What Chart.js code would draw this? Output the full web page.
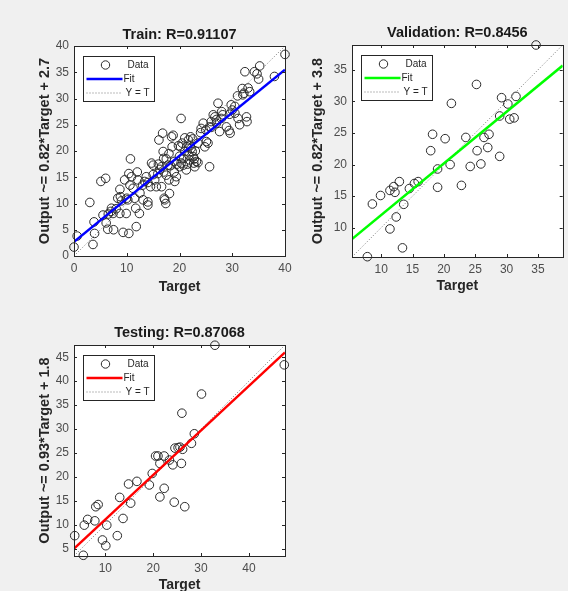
<!DOCTYPE html>
<html>
<head>
<meta charset="utf-8">
<script src="https://cdn.jsdelivr.net/npm/chart.js@4.4.0/dist/chart.umd.min.js"></script>
<style>
  body { margin:0; background:#f0f0f0; width:568px; height:591px; overflow:hidden; position:relative; }
  .panel { position:absolute; }
</style>
</head>
<body>
<div class="panel" style="left:0;top:0;width:300px;height:300px"><canvas id="trainChart"></canvas></div>
<div class="panel" style="left:290px;top:0;width:278px;height:300px"><canvas id="valChart"></canvas></div>
<div class="panel" style="left:0;top:300px;width:300px;height:300px"><canvas id="testChart"></canvas></div>
<script>
// Train
const trainTarget = [0,0.6,3.0,3.8,3.9,3.6,5.1,6.0,5.5,6.1,6.4,7.5,7.1,7.4,8.7,8.3,8.8,8.7,9.3,9.6,9.9,10.4,10.7,10.4,10.9,10.6,10.2,11.2,11.7,11.8,
  12.0,12.1,12.4,13.1,13.4,13.7,14.0,14.0,14.5,14.7,15.0,15.3,15.6,15.9,16.1,16.6,16.6,16.8,16.9,17.0,17.1,17.2,17.4,17.5,17.8,18.0,18.1,18.5,18.6,18.8,
  19.0,19.1,19.4,20.3,20.2,20.3,20.7,20.8,21.0,21.3,21.4,21.7,21.8,21.9,22.1,22.2,22.4,22.6,22.7,22.9,23.2,23.5,24.1,24.5,24.8,25.1,25.4,25.7,25.7,26.0,
  26.4,26.7,27.0,27.3,27.6,27.9,28.2,28.9,29.4,29.6,29.8,30.0,30.5,31.1,31.4,31.9,32.0,32.4,32.7,32.8,33.3,34.2,34.7,35.0,35.2,38.0,40.0,
  16.0,17.0,18.3,19.5,20.0,20.5,21.0,22.0,22.5,23.0,19.8,18.0,17.5,16.3,15.0,14.0,13.0,12.5,11.5,10.0,9.0,8.0,7.0,6.5,24.0,25.0,26.0,27.0,28.0,29.5,
  30.5,31.0,32.2,33.0,21.5,22.8,23.5,20.0,19.0];
const trainOutput = [1.7,3.8,10.2,6.5,4.3,2.2,14.2,14.8,7.8,6.3,5.1,5.0,9.1,8.1,12.7,11.0,11.3,8.1,4.5,14.5,8.1,4.3,18.5,15.7,15.1,13.5,10.7,12.9,9.1,5.6,
  16.0,14.5,8.1,10.7,14.2,15.1,10.3,9.7,13.2,17.7,17.3,14.5,13.2,15.7,22.1,17.0,13.2,23.4,19.9,18.6,11.0,10.7,10.0,15.4,17.3,14.5,11.9,22.7,20.8,23.0,
  18.0,14.2,15.1,26.2,20.8,17.7,17.3,18.6,19.9,16.4,20.8,22.1,19.2,18.3,22.7,20.5,19.9,18.9,17.7,17.0,18.0,21.5,24.3,25.3,20.8,21.8,21.5,17.0,24.6,25.6,
  26.9,26.5,25.3,29.1,23.7,26.2,26.9,24.6,23.9,23.4,28.8,27.8,27.2,26.2,25.0,31.9,30.7,35.1,26.5,25.6,31.3,35.1,34.7,33.7,36.2,34.2,38.4,
  17.5,16.0,17.2,17.5,19.0,21.5,22.5,21.0,22.3,20.0,21.0,19.5,18.5,16.5,15.5,14.0,13.5,12.0,11.0,11.0,10.5,9.0,8.5,8.0,23.5,24.0,24.5,26.0,27.5,27.0,
  28.5,30.5,31.0,32.0,17.5,18.5,17.8,17.0,16.0];
const trainLimits = [0, 40];
const trainFitX = [0, 40];
const trainFitY = [2.7, 35.5];

// Validation
const valTarget = [7.8,8.6,9.9,11.4,12.0,12.2,12.9,11.4,12.4,13.4,13.6,14.5,15.3,15.9,17.9,18.2,19.0,19.0,20.2,21.0,
  21.2,22.8,23.5,24.2,25.2,25.3,25.9,26.4,27.2,27.0,28.9,28.9,29.2,30.2,30.5,31.2,31.5,34.7];
const valOutput = [5.4,13.75,15.1,15.9,16.5,15.6,17.3,9.8,11.7,6.8,13.7,16.2,17.0,17.3,22.2,24.8,19.3,16.4,24.1,20.0,
  29.7,16.7,24.3,19.7,32.7,22.2,20.1,24.3,24.8,22.7,21.3,27.7,30.6,29.6,27.2,27.4,30.8,38.95];
const valLimits = [5.35, 38.95];
const valFitX = [5.35, 38.95];
const valFitY = [8.2, 35.7];

// Testing
const testTarget = [3.6,5.4,5.6,6.3,7.8,8.0,8.5,9.4,10.1,10.3,12.5,13.0,13.7,14.85,15.3,16.6,19.2,19.8,20.5,21.0,
  21.4,21.4,22.3,22.3,23.4,24.1,24.4,24.55,25.2,25.6,25.9,26.0,26.15,26.6,28.0,28.6,30.1,32.9,47.4];
const testOutput = [7.7,3.6,9.9,11.1,10.8,13.75,14.2,6.8,5.6,9.9,7.7,15.7,11.3,18.5,14.5,19.05,18.3,20.7,24.35,24.35,
  15.8,22.8,24.35,17.6,23.5,22.5,14.7,26.0,26.1,26.2,22.8,33.3,25.75,13.75,27.0,29.0,37.3,47.5,43.4];
const testLimits = [3.45, 47.55];
const testFitX = [3.45, 47.55];
const testFitY = [5.0, 46.0];

const FONT = "'Liberation Sans', Arial, sans-serif";

// white axes area, box, inward ticks and a MATLAB-like legend
const matlabAxes = {
  id: 'matlabAxes',
  beforeDraw(chart) {
    const a = chart.chartArea, ctx = chart.ctx;
    ctx.save();
    ctx.fillStyle = '#ffffff';
    ctx.fillRect(a.left, a.top, a.right - a.left, a.bottom - a.top);
    ctx.restore();
  },
  afterDatasetsDraw(chart, args, opts) {
    const a = chart.chartArea, ctx = chart.ctx;
    const xs = chart.scales.x, ys = chart.scales.y;
    ctx.save();
    ctx.strokeStyle = '#262626';
    ctx.lineWidth = 1;
    ctx.beginPath();
    xs.ticks.forEach(t => {
      const px = Math.round(xs.getPixelForValue(t.value)) + 0.5;
      ctx.moveTo(px, a.bottom); ctx.lineTo(px, a.bottom - 3);
      ctx.moveTo(px, a.top); ctx.lineTo(px, a.top + 3);
    });
    ys.ticks.forEach(t => {
      const py = Math.round(ys.getPixelForValue(t.value)) + 0.5;
      ctx.moveTo(a.left, py); ctx.lineTo(a.left + 3, py);
      ctx.moveTo(a.right, py); ctx.lineTo(a.right - 3, py);
    });
    ctx.stroke();
    ctx.strokeRect(Math.round(a.left) + 0.5, Math.round(a.top) + 0.5, Math.round(a.right - a.left), Math.round(a.bottom - a.top));

    // legend
    const lx = Math.round(a.left) + 9.5, ly = Math.round(a.top) + 10.5, lw = 71, lh = 45;
    ctx.fillStyle = '#ffffff';
    ctx.fillRect(lx, ly, lw, lh);
    ctx.strokeStyle = '#262626';
    ctx.strokeRect(lx, ly, lw, lh);
    ctx.font = '10px ' + FONT;
    ctx.fillStyle = '#262626';
    ctx.textBaseline = 'middle';
    // Data
    ctx.beginPath();
    ctx.arc(lx + 22, ly + 8.5, 4.2, 0, Math.PI * 2);
    ctx.strokeStyle = '#2b2b2b';
    ctx.stroke();
    ctx.fillText('Data', lx + 44, ly + 8.5);
    // Fit
    ctx.beginPath();
    ctx.strokeStyle = opts.color;
    ctx.lineWidth = 2.5;
    ctx.moveTo(lx + 3, ly + 22.5); ctx.lineTo(lx + 39, ly + 22.5);
    ctx.stroke();
    ctx.fillText('Fit', lx + 40, ly + 22.5);
    // Y = T
    ctx.beginPath();
    ctx.strokeStyle = '#777777';
    ctx.lineWidth = 1;
    ctx.setLineDash([1, 2]);
    ctx.moveTo(lx + 3, ly + 36.5); ctx.lineTo(lx + 39, ly + 36.5);
    ctx.stroke();
    ctx.setLineDash([]);
    ctx.fillText('Y = T', lx + 42, ly + 36.5);
    ctx.restore();
  }
};

function drawRegression(id, p) {
  const points = p.target.map((t, i) => ({ x: t, y: p.output[i] }));
  const fit = p.fitX.map((x, i) => ({ x, y: p.fitY[i] }));
  const diag = p.limits.map(v => ({ x: v, y: v }));
  const tickFont = { family: FONT, size: 12 };
  const headFont = { family: FONT, size: 14.5, weight: 'bold' };
  const labelFont = { family: FONT, size: 14, weight: 'bold' };
  return new Chart(document.getElementById(id), {
    type: 'scatter',
    data: {
      datasets: [
        { data: fit, showLine: true, borderColor: p.color, borderWidth: 2.5, pointRadius: 0 },
        { data: diag, showLine: true, borderColor: '#777777', borderWidth: 1, borderDash: [1, 2], pointRadius: 0 },
        { data: points, pointRadius: 4.3, pointBorderWidth: 1, pointBorderColor: '#2b2b2b',
          pointBackgroundColor: 'rgba(0,0,0,0)', clip: false }
      ]
    },
    options: {
      responsive: true,
      maintainAspectRatio: false,
      animation: false,
      layout: { padding: { right: p.padRight, bottom: 0, top: 0, left: 0 } },
      plugins: {
        legend: { display: false },
        tooltip: { enabled: false },
        title: { display: true, fullSize: false, text: p.title, color: '#1a1a1a', font: headFont,
                 padding: { top: p.titleTop, bottom: p.titleBottom } },
        matlabAxes: { color: p.color }
      },
      scales: {
        x: {
          type: 'linear', min: p.limits[0], max: p.limits[1],
          grid: { display: false, drawTicks: false },
          border: { display: false },
          ticks: { stepSize: p.xStep, includeBounds: false, padding: 5, color: '#4d4d4d', font: tickFont, maxRotation: 0 },
          title: { display: true, text: 'Target', color: '#262626', font: labelFont, padding: { top: 0, bottom: p.xTitlePad } },
          afterFit: s => { s.height = p.xAxisHeight; s.paddingLeft = 0; s.paddingRight = 0; }
        },
        y: {
          type: 'linear', min: p.limits[0], max: p.limits[1],
          grid: { display: false, drawTicks: false },
          border: { display: false },
          ticks: { stepSize: p.yStep, includeBounds: false, padding: 5, color: '#4d4d4d', font: tickFont },
          title: { display: true, text: p.yTitle, color: '#262626', font: headFont, padding: { top: p.yTitlePad, bottom: 0 } },
          afterFit: s => { s.width = p.yAxisWidth; s.paddingTop = 0; s.paddingBottom = 0; }
        }
      }
    },
    plugins: [matlabAxes]
  });
}

drawRegression('trainChart', {
  target: trainTarget, output: trainOutput, limits: trainLimits, fitX: trainFitX, fitY: trainFitY,
  color: '#0000ff', title: 'Train: R=0.91107', yTitle: 'Output ~= 0.82*Target + 2.7',
  xStep: 10, yStep: 5, titleTop: 26.3, titleBottom: 2.3, yAxisWidth: 74, yTitlePad: 36.3, xAxisHeight: 44, xTitlePad: 4.6, padRight: 15
});
drawRegression('valChart', {
  target: valTarget, output: valOutput, limits: valLimits, fitX: valFitX, fitY: valFitY,
  color: '#00ff00', title: 'Validation: R=0.8456', yTitle: 'Output ~= 0.82*Target + 3.8',
  xStep: 5, yStep: 5, titleTop: 24.3, titleBottom: 3.3, yAxisWidth: 62, yTitlePad: 19.3, xAxisHeight: 43, xTitlePad: 5.6, padRight: 3
});
drawRegression('testChart', {
  target: testTarget, output: testOutput, limits: testLimits, fitX: testFitX, fitY: testFitY,
  color: '#ff0000', title: 'Testing: R=0.87068', yTitle: 'Output ~= 0.93*Target + 1.8',
  xStep: 10, yStep: 5, titleTop: 24.3, titleBottom: 3.3, yAxisWidth: 74, yTitlePad: 36.3, xAxisHeight: 44, xTitlePad: 6.6, padRight: 15
});
</script>
</body>
</html>
